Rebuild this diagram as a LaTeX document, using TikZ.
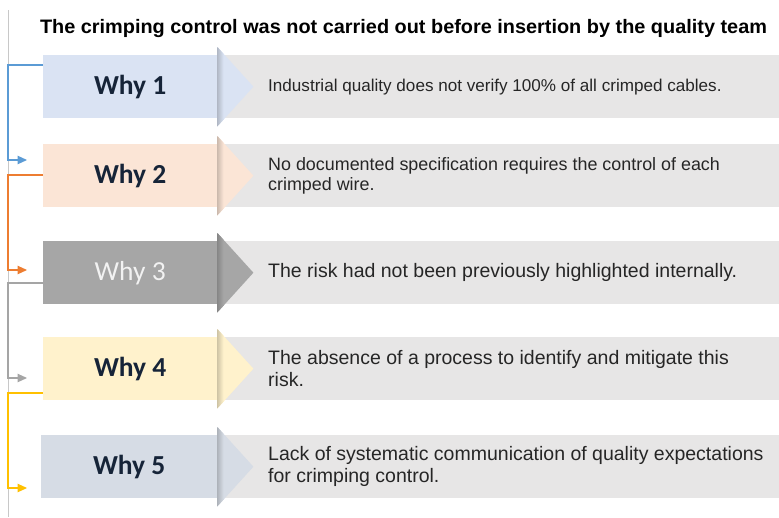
\documentclass[tikz,border=0pt]{standalone}
\usepackage{fontspec}
\setmainfont{Liberation Sans}
\newfontfamily\whyfont{Carlito}
\usetikzlibrary{arrows.meta}
\definecolor{bluebox}{RGB}{218,227,243}
\definecolor{orangebox}{RGB}{251,229,214}
\definecolor{greybox}{RGB}{166,166,166}
\definecolor{yellowbox}{RGB}{255,242,204}
\definecolor{slatebox}{RGB}{214,220,229}
\definecolor{barfill}{RGB}{231,230,230}
\definecolor{whyink}{RGB}{22,36,56}
\definecolor{causeink}{RGB}{38,38,38}
\definecolor{linkblue}{RGB}{91,155,213}
\definecolor{linkorange}{RGB}{237,125,49}
\definecolor{linkgrey}{RGB}{165,165,165}
\definecolor{linkyellow}{RGB}{255,192,0}
\definecolor{railgrey}{RGB}{200,200,200}
\tikzset{
  whybox/.style={minimum width=174pt,minimum height=63pt,inner sep=0pt,anchor=north west,text=whyink,
    font=\whyfont\fontsize{27.5}{30}\selectfont\bfseries},
  causebar/.style={fill=barfill,minimum width=562pt,minimum height=63pt,inner sep=0pt,anchor=north west},
  causetxt/.style={anchor=west,inner sep=0pt,align=left,text=causeink,font=\fontsize{19.5}{22.5}\selectfont},
  link/.style={line width=1.1pt,-{Triangle[length=9.5pt,width=8.5pt]}},
  rail/.style={railgrey,line width=0.8pt}
}
% arrow head of a why box: #1 node, #2 colour
\newcommand\whyhead[2]{%
  \fill[#2] ([yshift=8pt]#1.north east) -- ([xshift=36pt]#1.east) -- ([yshift=-8pt]#1.south east) -- cycle;
  \begin{scope}
    \clip ([yshift=8pt]#1.north east) -- ([xshift=36pt]#1.east) -- ([yshift=-8pt]#1.south east) -- cycle;
    \shade[left color=#2!82!black,right color=#2] ([yshift=8pt]#1.north east) rectangle ([xshift=6pt,yshift=-8pt]#1.south east);
  \end{scope}}

\begin{document}
\begin{tikzpicture}[x=1pt,y=-1pt]
  \useasboundingbox (0,0) rectangle (779,517);
  \coordinate (railtop) at (8,10); \coordinate (railbot) at (8,517);
  \draw[rail] (railtop) -- (railbot);
  \node[anchor=base,inner sep=0pt,font=\bfseries\fontsize{19.5}{22}\selectfont] (title) at (403.5,33)
    {\resizebox{727pt}{\height}{The crimping control was not carried out before insertion by the quality team}};

  % grey cause bars
  \node[causebar] (b1) at (217,55) {}; \node[causebar] (b2) at (217,144) {};
  \node[causebar] (b3) at (217,241) {}; \node[causebar] (b4) at (217,337) {};
  \node[causebar] (b5) at (217,435) {};

  % why boxes
  \node[whybox,fill=bluebox] (w1) at (43,55) {Why 1}; \whyhead{w1}{bluebox}
  \node[whybox,fill=orangebox] (w2) at (43,144) {Why 2}; \whyhead{w2}{orangebox}
  \node[whybox,fill=greybox,text=white!95!black,font=\whyfont\fontsize{27.5}{30}\selectfont] (w3) at (43,241) {Why 3}; \whyhead{w3}{greybox}
  \node[whybox,fill=yellowbox] (w4) at (43,337) {Why 4}; \whyhead{w4}{yellowbox}
  \node[whybox,fill=slatebox,minimum width=176pt] (w5) at (41,435) {Why 5}; \whyhead{w5}{slatebox}

  % causes
  \node[causetxt,font=\fontsize{17.1}{20.5}\selectfont] (c1) at ([xshift=51pt]b1.west) {Industrial quality does not verify 100\% of all crimped cables.};
  \node[causetxt,font=\fontsize{17.9}{20.5}\selectfont] (c2) at ([xshift=51pt]b2.west) {No documented specification requires the control of each\\crimped wire.};
  \node[causetxt] (c3) at ([xshift=51pt]b3.west) {The risk had not been previously highlighted internally.};
  \node[causetxt] (c4) at ([xshift=51pt]b4.west) {The absence of a process to identify and mitigate this\\risk.};
  \node[causetxt] (c5) at ([xshift=51pt]b5.west) {Lack of systematic communication of quality expectations\\for crimping control.};

  % links between the whys
  \coordinate (s1) at (43,65); \coordinate (e1) at (27,160);
  \coordinate (s2) at (43,175); \coordinate (e2) at (27,270);
  \coordinate (s3) at (43,283); \coordinate (e3) at (27,378);
  \coordinate (s4) at (43,393); \coordinate (e4) at (27,488);
  \draw[link,linkblue] (s1) -| (8,160) -- (e1);
  \draw[link,linkorange] (s2) -| (8,270) -- (e2);
  \draw[link,linkgrey] (s3) -| (8,378) -- (e3);
  \draw[link,linkyellow] (s4) -| (8,488) -- (e4);
\end{tikzpicture}
\end{document}
